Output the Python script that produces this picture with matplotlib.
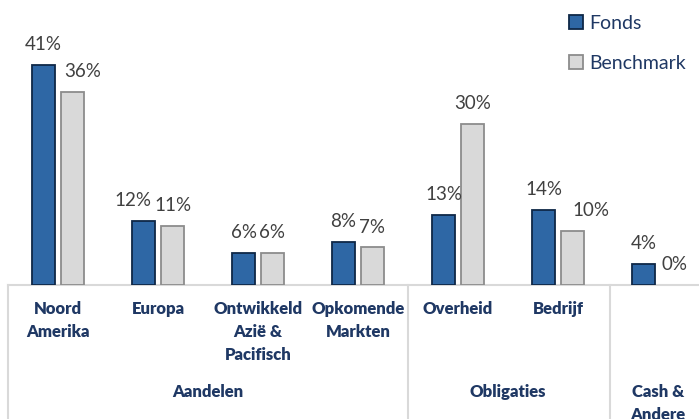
import matplotlib
matplotlib.use("Agg")
import matplotlib.pyplot as plt
import matplotlib.transforms as mtransforms
from matplotlib.lines import Line2D
import numpy as np

plt.rcParams['font.family'] = ['Lato', 'DejaVu Sans']

# data
categories = ["Noord\nAmerika", "Europa", "Ontwikkeld\nAzië &\nPacifisch",
              "Opkomende\nMarkten", "Overheid", "Bedrijf", ""]
fonds = [41, 12, 6, 8, 13, 14, 4]
benchmark = [36, 11, 6, 7, 30, 10, 0]
groups = ["Aandelen", "Obligaties", "Cash &\nAndere"]
group_spans = [(0, 3), (4, 5), (6, 6)]

# label nudges (px) where the labels were moved apart in the original
fonds_nudge = {1: -11}
bench_nudge = {0: 10, 5: 18, 6: 2}

navy = "#1F3864"
fonds_col = "#2E67A5"
fonds_edge = "#0E2747"
bench_col = "#D9D9D9"
bench_edge = "#8C8C8C"
grid_col = "#D9D9D9"

W, H = 699, 419
fig = plt.figure(figsize=(W / 100, H / 100), dpi=100)
base_px = 285
ax = fig.add_axes([8 / W, (H - base_px) / H, 700 / W, base_px / H])

x = np.arange(len(categories))
bw = 0.23
off = 0.145
b1 = ax.bar(x - off, fonds, bw, color=fonds_col, edgecolor=fonds_edge, linewidth=1.3,
            label="Fonds", zorder=3)
b2 = ax.bar(x + off, benchmark, bw, color=bench_col, edgecolor=bench_edge, linewidth=1.3,
            label="Benchmark", zorder=3)
for r, v in zip(b2, benchmark):
    if v == 0:
        r.set_linewidth(0)

for bars, vals, nudge in ((b1, fonds, fonds_nudge), (b2, benchmark, bench_nudge)):
    for i, (r, v) in enumerate(zip(bars, vals)):
        ax.annotate(f"{v}%", (r.get_x() + r.get_width() / 2, v),
                    xytext=(nudge.get(i, 0) * 0.72, 8.5), textcoords="offset points",
                    ha="center", va="bottom", fontsize=13.5, color="#404040")

ax.set_xlim(-0.5, 6.5)
ax.set_ylim(0, base_px / 5.37)
ax.set_xticks([])
ax.set_yticks([])
for s in ["top", "right", "left"]:
    ax.spines[s].set_visible(False)
ax.spines["bottom"].set_color(grid_col)
ax.spines["bottom"].set_linewidth(1.5)

# category table below axis
tr = mtransforms.blended_transform_factory(ax.transData, fig.transFigure)
def fy(px):
    return (H - px) / H

for i, c in enumerate(categories):
    fig.text(i, fy(301), c, transform=tr, ha="center", va="top",
             fontsize=12, fontweight="heavy", color=navy, linespacing=1.55)

for g, (a, b) in zip(groups, group_spans):
    fig.text((a + b) / 2, fy(384), g, transform=tr, ha="center", va="top",
             fontsize=12, fontweight="heavy", color=navy, linespacing=1.55)

for xb in (-0.5, 3.5, 5.52):
    fig.add_artist(Line2D([xb, xb], [fy(base_px), 0], transform=tr,
                          color=grid_col, linewidth=1.5))

leg = fig.legend(handles=[b1, b2], loc="upper left", bbox_to_anchor=(551 / W, 1 + 3 / H),
                 frameon=False, fontsize=14, handlelength=0.75, handleheight=0.75,
                 handletextpad=0.3, labelspacing=1.2, labelcolor=navy)

fig.savefig("out.png", dpi=100)
